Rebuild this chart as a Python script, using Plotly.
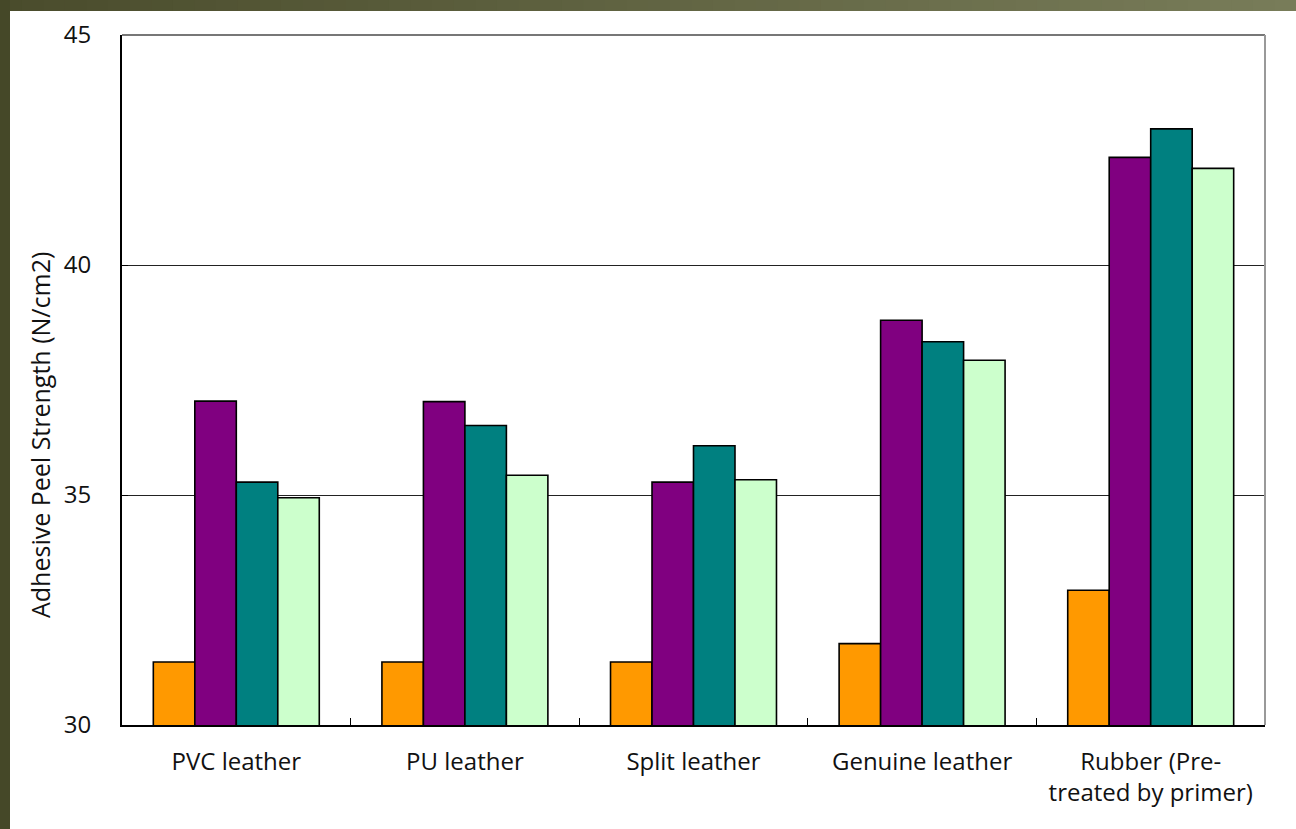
import plotly.graph_objects as go

# Substrates tested and peel strength per adhesive formulation (N/cm2)
categories = ["PVC leather", "PU leather", "Split leather", "Genuine leather",
              "Rubber (Pre-<br>treated by primer)"]
series_a = [31.37, 31.37, 31.37, 31.77, 32.93]
series_b = [37.04, 37.03, 35.28, 38.80, 42.34]
series_c = [35.28, 36.51, 36.07, 38.33, 42.96]
series_d = [34.94, 35.43, 35.33, 37.93, 42.10]

y_ticks = [30, 35, 40, 45]
y_title = "Adhesive Peel Strength (N/cm2)"

colors = ["#FF9900", "#800080", "#008080", "#CCFFCC"]
names = ["A", "B", "C", "D"]

W, H = 1296, 829
ml, mr, mt, mb = 122, 31, 35, 104
pw, ph = W - ml - mr, H - mt - mb


def px_x(x):
    return (x - ml) / pw


def px_y(y):
    return 1 - (y - mt) / ph


fig = go.Figure()
for name, vals, col in zip(names, [series_a, series_b, series_c, series_d], colors):
    fig.add_trace(go.Bar(
        x=categories, y=vals, name=name,
        marker=dict(color=col, line=dict(color="#000000", width=1.6)),
    ))

shapes = []
# olive frame: left band and top band with a left-to-right gradient
def lerp(c1, c2, t):
    return "#%02x%02x%02x" % tuple(int(round(a + (b - a) * t)) for a, b in zip(c1, c2))

c_left = (0x4a, 0x4c, 0x2c)
c_right = (0x78, 0x7c, 0x59)
n_strips = 60
for i in range(n_strips):
    x0 = W * i / n_strips
    x1 = W * (i + 1) / n_strips + 1
    shapes.append(dict(type="rect", xref="paper", yref="paper",
                       x0=px_x(x0), x1=px_x(x1), y0=px_y(11), y1=px_y(0),
                       fillcolor=lerp(c_left, c_right, i / (n_strips - 1)),
                       line=dict(width=0), layer="below"))
shapes.append(dict(type="rect", xref="paper", yref="paper",
                   x0=px_x(0), x1=px_x(10), y0=px_y(H), y1=px_y(0),
                   fillcolor="#454828", line=dict(width=0), layer="below"))
# gray top and right frame of the plot area
shapes.append(dict(type="line", xref="paper", yref="paper", x0=0, x1=1, y0=1, y1=1,
                   line=dict(color="#777777", width=2)))
shapes.append(dict(type="line", xref="paper", yref="paper", x0=1, x1=1, y0=0, y1=1,
                   line=dict(color="#999999", width=2)))

fig.update_layout(
    width=W, height=H,
    margin=dict(l=ml, r=mr, t=mt, b=mb),
    paper_bgcolor="#ffffff", plot_bgcolor="rgba(0,0,0,0)",
    barmode="group", bargap=0.274, bargroupgap=0,
    showlegend=False,
    font=dict(family="Open Sans", size=24, color="#111111"),
    shapes=shapes,
    annotations=[dict(text=y_title, xref="paper", yref="paper",
                      x=px_x(40), y=px_y(435), xanchor="center", yanchor="middle",
                      textangle=-90, showarrow=False, font=dict(size=25))],
    yaxis=dict(
        range=[30, 45], tickvals=y_ticks,
        showgrid=True, gridcolor="#222222", gridwidth=1.3,
        showline=True, linecolor="#000000", linewidth=2,
        ticks="inside", ticklen=6, tickcolor="#000000",
        zeroline=False, ticklabelstandoff=24,
    ),
    xaxis=dict(
        showline=True, linecolor="#000000", linewidth=2,
        ticks="inside", ticklen=7, tickcolor="#000000", tickson="boundaries",
        ticklabelstandoff=14,
    ),
)

fig.write_html("out.html")
